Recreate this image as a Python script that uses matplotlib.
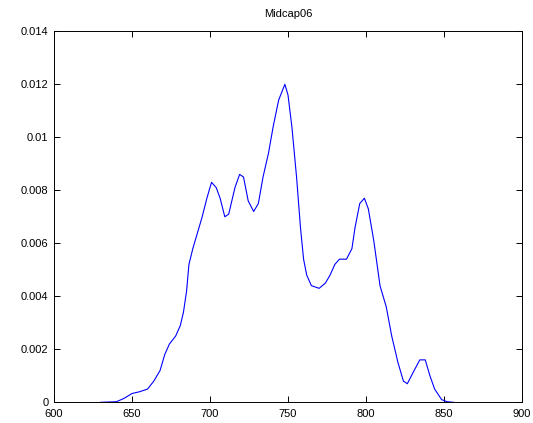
# Density curve for Midcap06, drawn in the old MATLAB figure style
import matplotlib
matplotlib.use("Agg")
import matplotlib.pyplot as plt

# Values
x_vals = [630, 640, 645, 650, 655, 660, 664, 668, 671, 674, 678, 681, 683, 685,
          686.5, 689, 691.5, 695, 698, 701, 704, 706.5, 709.5, 712, 716, 719,
          721.5, 724.5, 728, 731, 734, 737.5, 740.5, 744, 748, 750, 752.5,
          755.5, 758, 760, 762, 765, 770, 774, 777, 780, 783, 787.5, 791, 793,
          796, 799, 801.5, 805, 809, 813, 816.5, 820.5, 824, 826.5, 830, 834.5,
          838, 841, 844, 848.5, 852, 856]
density = [0, 0.00002, 0.00015, 0.00033, 0.0004, 0.0005, 0.0008, 0.0012, 0.0018,
           0.0022, 0.0025, 0.0029, 0.0034, 0.0042, 0.0052, 0.0058, 0.0063, 0.0070,
           0.0077, 0.0083, 0.0081, 0.0077, 0.0070, 0.0071, 0.0081, 0.0086, 0.0085,
           0.0076, 0.0072, 0.0075, 0.0085, 0.0094, 0.0104, 0.0114, 0.0120, 0.0116,
           0.0104, 0.0085, 0.0066, 0.0054, 0.0048, 0.0044, 0.0043, 0.0045, 0.0048,
           0.0052, 0.0054, 0.0054, 0.0058, 0.0066, 0.0075, 0.0077, 0.0073, 0.0061,
           0.0044, 0.0036, 0.0025, 0.0015, 0.0008, 0.0007, 0.0011, 0.0016, 0.0016,
           0.0010, 0.0005, 0.0001, 0.00002, 0]

x_ticks = [600, 650, 700, 750, 800, 850, 900]
y_ticks = [0, 0.002, 0.004, 0.006, 0.008, 0.01, 0.012, 0.014]
y_labels = ["0", "0.002", "0.004", "0.006", "0.008", "0.01", "0.012", "0.014"]

plt.rcParams["font.family"] = ["Liberation Sans", "DejaVu Sans"]
plt.rcParams["font.size"] = 8

fig = plt.figure(figsize=(5.33, 4.23), dpi=100)
ax = fig.add_axes([0.1013, 0.049, 0.878, 0.877])
ax.plot(x_vals, density, color="#0000ff", linewidth=0.8)

ax.set_xlim(600, 900)
ax.set_ylim(0, 0.014)
ax.set_xticks(x_ticks)
ax.set_yticks(y_ticks)
ax.set_yticklabels(y_labels)
ax.tick_params(direction="in", length=4, width=0.7, top=True, right=True)
ax.tick_params(axis="x", pad=5)
ax.tick_params(axis="y", pad=4)
for s in ax.spines.values():
    s.set_linewidth(0.7)
ax.set_title("Midcap06", fontsize=8, pad=10)

fig.savefig("out.png", dpi=100)
